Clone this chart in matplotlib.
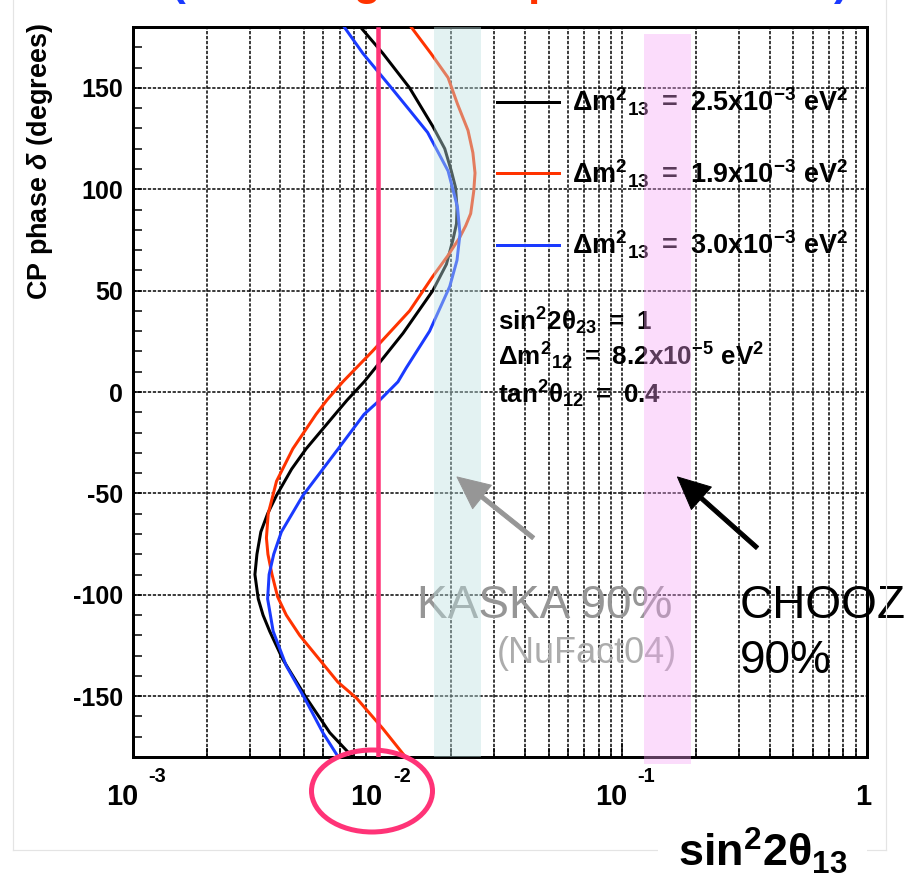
import matplotlib
matplotlib.use("Agg")
import numpy as np
import matplotlib.pyplot as plt
import matplotlib.transforms as mtransforms
from matplotlib.patches import Ellipse, Rectangle
from matplotlib.lines import Line2D
from matplotlib.ticker import FixedLocator, LogLocator, MultipleLocator, NullFormatter

W, H, DPI = 919, 889, 72

plt.rcParams['font.family'] = ['Liberation Sans', 'DejaVu Sans']
plt.rcParams['font.weight'] = 'bold'
plt.rcParams['axes.unicode_minus'] = False
plt.rcParams['mathtext.fontset'] = 'custom'
plt.rcParams['mathtext.rm'] = 'Liberation Sans'
plt.rcParams['mathtext.bf'] = 'Liberation Sans:bold'
plt.rcParams['mathtext.it'] = 'Liberation Sans:italic'

# sensitivity contours: CP phase delta (deg) vs sin^2 2theta13
delta_25 = [180, 167, 150, 131, 120, 109, 101, 91, 83, 75, 63, 50, 29, 12, 5, -4, -11, -28, -38,
            -51, -60, -69, -80, -90, -102, -110, -118, -132, -151, -168, -180]
s2t_25 = [0.0085, 0.0105, 0.0135, 0.0168, 0.0188, 0.0200, 0.0208, 0.0211, 0.0210, 0.0203, 0.0191,
          0.0168, 0.0127, 0.0098, 0.0088, 0.0075, 0.0067, 0.0051, 0.00445,
          0.00386, 0.00355, 0.00333, 0.00321, 0.00315, 0.00325, 0.0034, 0.00362, 0.0041,
          0.00512, 0.00637, 0.0079]

delta_19 = [180, 167, 155, 142, 129, 118, 108, 99, 88, 82, 76, 67, 57, 40, 20, 5, -4, -11, -28, -44,
            -60, -72, -80, -90, -101, -110, -120, -131, -143, -151, -166, -180]
s2t_19 = [0.0137, 0.0165, 0.0194, 0.0212, 0.0234, 0.0245, 0.0250, 0.0247, 0.0240, 0.0229, 0.0216,
          0.0193, 0.0168, 0.0135, 0.0095, 0.0072, 0.0062, 0.0056, 0.0045, 0.00386,
          0.00357, 0.00351, 0.00356, 0.0037, 0.00390, 0.00423, 0.0048, 0.0057, 0.00687, 0.0082,
          0.0105, 0.0130]

delta_30 = [180, 167, 151, 139, 128, 109, 95, 91, 78, 65, 52, 30, 12, 5, -4, -11, -28, -51,
            -69, -80, -90, -102, -118, -135, -151, -168, -180]
s2t_30 = [0.0073, 0.0087, 0.0112, 0.0135, 0.0160, 0.0194, 0.0208, 0.0212, 0.0217, 0.0211, 0.0197,
          0.0163, 0.0131, 0.0121, 0.0102, 0.0088, 0.0069, 0.00495,
          0.00404, 0.00376, 0.0036, 0.00355, 0.00374, 0.00423, 0.00503, 0.00597, 0.0069]

dm2_values = ['2.5', '1.9', '3.0']
curve_colors = ['#000000', '#ff3300', '#1a3aff']

kaska_range = (0.0170, 0.0265)
chooz_range = (0.123, 0.191)
reactor_goal = 0.01

fig = plt.figure(figsize=(W / DPI, H / DPI), dpi=DPI)
px = mtransforms.Affine2D().scale(1 / DPI, -1 / DPI).translate(0, H / DPI) + fig.dpi_scale_trans

# light frame of the slide
frame_kw = dict(color='#e4e4e4', lw=1.2, transform=px)
fig.add_artist(Line2D([13, 13], [0, 850], **frame_kw))
fig.add_artist(Line2D([13, 886], [850, 850], **frame_kw))
fig.add_artist(Line2D([886, 886], [0, 850], **frame_kw))

ax = fig.add_axes([133 / W, 1 - 757 / H, 734 / W, 730 / H])
ax.set_xscale('log')

for s, d, c in zip([s2t_25, s2t_19, s2t_30], [delta_25, delta_19, delta_30], curve_colors):
    ax.plot(s, d, color=c, lw=3, zorder=3, solid_joinstyle='round')

# experiment bands drawn over the curves
ax.axvspan(*kaska_range, color='#bee2e2', alpha=0.42, lw=0, zorder=5)
ax.add_patch(Rectangle((chooz_range[0], -183.5), chooz_range[1] - chooz_range[0], 360,
                       color='#f5a0f5', alpha=0.37, lw=0, zorder=5, clip_on=False))
ax.axvline(reactor_goal, ymin=0, ymax=0.997, color='#ff3377', lw=4.5, zorder=6)

ax.set_xlim(1e-3, 1)
ax.set_ylim(-180, 180)

ax.xaxis.set_major_locator(FixedLocator([1e-3, 1e-2, 1e-1, 1]))
ax.xaxis.set_minor_locator(LogLocator(base=10, subs=np.arange(2, 10)))
ax.xaxis.set_major_formatter(NullFormatter())
ax.xaxis.set_minor_formatter(NullFormatter())
ax.yaxis.set_major_locator(MultipleLocator(50))
ax.yaxis.set_minor_locator(MultipleLocator(10))

ax.tick_params(axis='y', which='both', direction='in', length=9, width=1.5,
               left=True, right=False, labelsize=25, pad=10)
ax.tick_params(axis='x', which='major', direction='in', length=14, width=1.5, top=False)
ax.tick_params(axis='x', which='minor', direction='in', length=9, width=1.5, top=False)

dash = (0, (2.2, 1.1))
ax.grid(True, which='both', axis='x', color='k', lw=1.5, ls=dash)
ax.grid(True, which='major', axis='y', color='k', lw=1.5, ls=dash)
ax.set_axisbelow(True)
for sp in ax.spines.values():
    sp.set_linewidth(3)

# decade labels in 10^n form
lab_kw = dict(xycoords=('data', 'axes fraction'), textcoords='offset points',
              ha='center', va='baseline', annotation_clip=False)
for v, e in zip([1e-3, 1e-2, 1e-1], ['-3', '-2', '-1']):
    ax.annotate('10', xy=(v, 0), xytext=(-11, -48), fontsize=29, **lab_kw)
    ax.annotate(e, xy=(v, 0), xytext=(24, -25), fontsize=20, **lab_kw)
ax.annotate('1', xy=(1, 0), xytext=(-4, -48), fontsize=29, **lab_kw)

# legend
for yb, c, v in zip([0.8836, 0.7863, 0.6877], curve_colors, dm2_values):
    ax.add_line(Line2D([0.496, 0.580], [yb + 0.014, yb + 0.014], color=c, lw=3,
                       transform=ax.transAxes, zorder=4))
    ax.text(0.598, yb, r'$\mathbf{\Delta m^{2}{}_{13}\ =\ %s x10^{-3}\ eV^{2}}$' % v,
            transform=ax.transAxes, fontsize=27, va='baseline', ha='left', zorder=4)

ax.text(0.497, 0.5849, r'$\mathbf{sin^{2}2\theta_{23}\ =\ 1}$', transform=ax.transAxes,
        fontsize=26, va='baseline', zorder=4)
ax.text(0.497, 0.537, r'$\mathbf{\Delta m^{2}{}_{12}\ =\ 8.2x10^{-5}\ eV^{2}}$',
        transform=ax.transAxes, fontsize=26, va='baseline', zorder=4)
ax.text(0.497, 0.4849, r'$\mathbf{tan^{2}\theta_{12}\ =\ 0.4}$', transform=ax.transAxes,
        fontsize=26, va='baseline', zorder=4)

# band annotations
ax.text(0.01447, -111.4, 'KASKA 90%', fontsize=46, fontweight='normal', color='#969696',
        va='baseline', zorder=4)
ax.text(0.0307, -133.6, '(NuFact04)', fontsize=36, fontweight='normal', color='#acacac',
        va='baseline', zorder=4)
ax.text(0.3024, -111.4, 'CHOOZ', fontsize=46, fontweight='normal', color='k',
        va='baseline', zorder=4)
ax.text(0.3024, -138.5, '90%', fontsize=46, fontweight='normal', color='k',
        va='baseline', zorder=4)
ax.annotate('', xy=(0.0211, -41.9), xytext=(0.0433, -72),
            arrowprops=dict(fc='#969696', ec='#969696', width=4, headwidth=30, headlength=32),
            zorder=7)
ax.annotate('', xy=(0.168, -41.9), xytext=(0.356, -76.9),
            arrowprops=dict(fc='k', ec='k', width=4, headwidth=30, headlength=32),
            zorder=7)

fig.text(40, 300, r'CP phase $\delta$ (degrees)', transform=px, rotation=90,
         ha='center', va='bottom', fontsize=27)

fig.add_artist(Ellipse((372, 791), 121, 82, transform=px, fill=False, ec='#ff3377', lw=5))

# title line running off the top edge
title_kw = dict(transform=px, fontsize=44, va='baseline', ha='left')
fig.text(171, -5, '(', color='#1a3aff', **title_kw)
fig.text(353, -5, 'g', color='#ff3300', **title_kw)
fig.text(527, -5, 'p', color='#ff3300', **title_kw)
fig.text(834, -5, ')', color='#1a3aff', **title_kw)

fig.add_artist(Rectangle((658, 815), 209, 74, transform=px, color='white', lw=0, zorder=2))
fig.text(678, 867, r'$\mathbf{sin^{2}2\theta_{13}}$', transform=px, fontsize=45,
         va='baseline', ha='left', zorder=3)

fig.savefig('out.png', dpi=DPI)
